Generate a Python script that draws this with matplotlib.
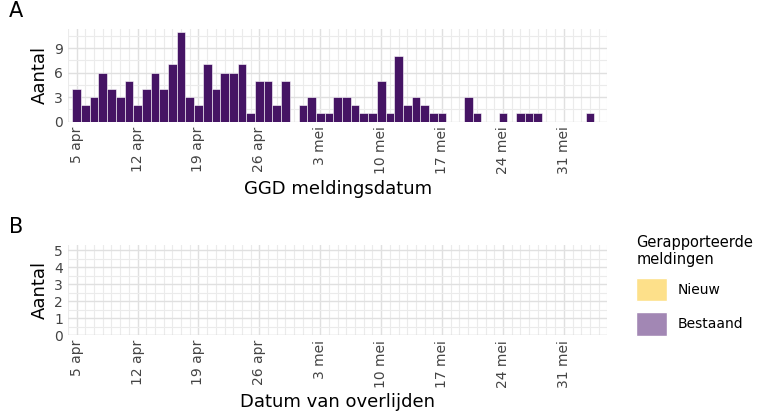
import numpy as np
import matplotlib.pyplot as plt
from matplotlib.patches import Patch

start = np.datetime64('2020-04-05')
counts = [4, 2, 3, 6, 4, 3, 5, 2, 4, 6, 4, 7, 11, 3, 2, 7, 4, 6, 6, 7, 1, 5, 5, 2, 5,
          0, 2, 3, 1, 1, 3, 3, 2, 1, 1, 5, 1, 8, 2, 3, 2, 1, 1,
          0, 0, 3, 1, 0, 0, 1, 0, 1, 1, 1, 0, 0, 0, 0, 0, 1]
dates = start + np.arange(len(counts))
tick_labels = ['5 apr', '12 apr', '19 apr', '26 apr', '3 mei', '10 mei', '17 mei', '24 mei', '31 mei']
tick_dates = start + np.arange(0, 63, 7)[:len(tick_labels)]

purple = '#451464'
plt.rcParams['font.family'] = 'DejaVu Sans'
fig = plt.figure(figsize=(7.64, 4.19), dpi=100)
axA = fig.add_axes([0.089, 0.71, 0.706, 0.22])
axB = fig.add_axes([0.089, 0.20, 0.706, 0.215])

xmin = (start - np.timedelta64(1, 'D')).astype('datetime64[D]').astype(object)
xmax = (start + np.timedelta64(61, 'D')).astype('datetime64[D]').astype(object)
d = dates.astype('datetime64[D]').astype(object)

axA.bar(d, counts, width=1.0, color=purple, edgecolor='white', linewidth=0.4, zorder=3)
axA.set_ylim(0, 11.3)
axA.set_yticks([0, 3, 6, 9])
axA.set_yticks([1.5, 4.5, 7.5, 10.5], minor=True)

axB.set_ylim(0, 5.3)
axB.set_yticks(range(6))
axB.set_yticks(np.arange(0.5, 5.3, 1), minor=True)
axB.axhline(0, color='#bbbbbb', lw=0.8)

td = tick_dates.astype('datetime64[D]').astype(object)
minor_d = (start + np.arange(-1, 62)).astype('datetime64[D]').astype(object)
for ax, lab, ltr in [(axA, 'GGD meldingsdatum', 'A'), (axB, 'Datum van overlijden', 'B')]:
    ax.set_xlim(xmin, xmax)
    ax.set_xticks(td)
    ax.set_xticklabels(tick_labels, rotation=90, fontsize=10, color='#444444')
    ax.set_xticks(minor_d, minor=True)
    ax.grid(True, which='both', color='#ebebeb', lw=0.8, zorder=0)
    ax.grid(True, which='major', color='#e0e0e0', lw=1.0, zorder=0)
    ax.tick_params(which='both', length=0, labelsize=10, colors='#444444')
    for s in ax.spines.values():
        s.set_visible(False)
    ax.set_ylabel('Aantal', fontsize=13)
    ax.set_xlabel(lab, fontsize=13)
    ax.set_axisbelow(True)
    fig.text(0.012, ax.get_position().y1 + 0.03, ltr, fontsize=15)

handles = [Patch(facecolor='#fde08a', edgecolor='white', label='Nieuw'),
           Patch(facecolor='#a287b4', edgecolor='white', label='Bestaand')]
fig.legend(handles=handles, title='Gerapporteerde\nmeldingen', loc='upper left',
           bbox_to_anchor=(0.822, 0.46), frameon=False, fontsize=10, title_fontsize=10.5,
           handlelength=2.2, handleheight=2.2, labelspacing=0.8, alignment='left',
           borderaxespad=0.2)
fig.savefig('out.png', dpi=100)
